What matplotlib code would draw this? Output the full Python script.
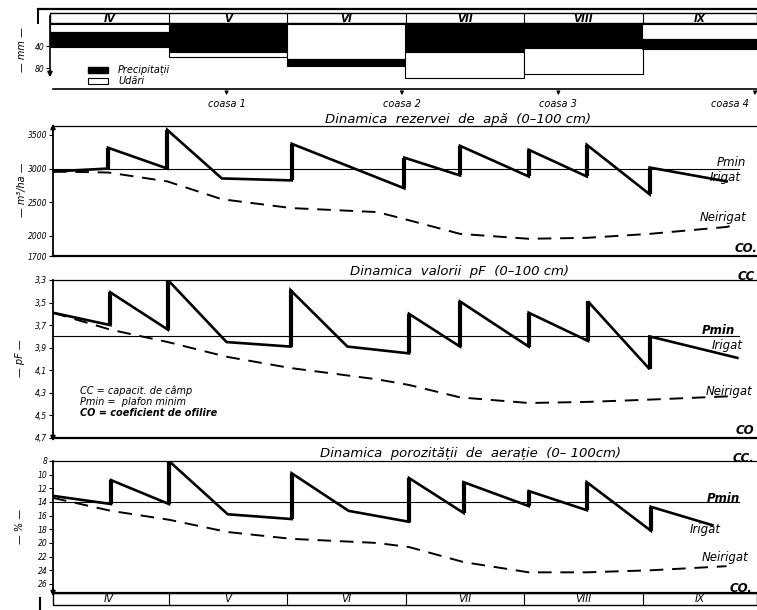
import matplotlib
matplotlib.use('Agg')
import matplotlib.pyplot as plt
from matplotlib.patches import Rectangle

W, H = 757, 610

# ---------------- data ----------------
months = ['IV', 'V', 'VI', 'VII', 'VIII', 'IX']
precip_mm = [27, 51, 12, 51, 44, 18]
irrig_mm = [15, 9, 64, 47, 47, 27]
precip_first = [False, True, False, True, True, False]

coasa_m = [1.49, 2.97, 4.29, 5.95]
coasa_labels = ['coasa 1', 'coasa 2', 'coasa 3', 'coasa 4']

# Reserve of water (m3/ha), x in month units from 1 April
res_irr_x = [0.025, 0.49, 0.49, 0.99, 0.99, 1.45, 2.04, 2.04, 2.99, 2.99,
             3.46, 3.46, 4.04, 4.04, 4.53, 4.53, 5.06, 5.06, 5.71]
res_irr_y = [2956, 3000, 3309, 3000, 3574, 2853, 2824, 3368, 2706, 3162,
             2897, 3338, 2882, 3279, 2882, 3353, 2618, 3015, 2809]
res_non_x = [0.025, 0.49, 0.99, 1.45, 2.04, 2.76, 2.99, 3.46, 4.04, 4.53, 5.06, 5.71, 5.78]
res_non_y = [2956, 2941, 2809, 2544, 2412, 2353, 2250, 2029, 1956, 1970, 2029, 2132, 2162]
res_pmin = 3000
res_ticks = [3500, 3000, 2500, 2000, 1700]

# pF
pf_irr_x = [0.025, 0.51, 0.51, 0.995, 0.995, 1.49, 2.03, 2.03, 2.51, 3.03,
            3.03, 3.46, 3.46, 4.04, 4.04, 4.54, 4.54, 5.06, 5.06, 5.80]
pf_irr_y = [3.59, 3.70, 3.41, 3.74, 3.30, 3.85, 3.89, 3.39, 3.89, 3.95,
            3.60, 3.89, 3.49, 3.89, 3.59, 3.84, 3.49, 4.09, 3.80, 3.99]
pf_non_x = [0.025, 0.51, 0.995, 1.49, 2.03, 2.76, 3.03, 3.46, 4.04, 4.54, 5.06, 5.74]
pf_non_y = [3.59, 3.74, 3.85, 3.98, 4.08, 4.18, 4.23, 4.34, 4.39, 4.38, 4.36, 4.33]
pf_pmin = 3.8
pf_ticks = [3.3, 3.5, 3.7, 3.9, 4.1, 4.3, 4.5, 4.7]
pf_ticklabels = ['3,3', '3,5', '3,7', '3,9', '4,1', '4,3', '4,5', '4,7']

# aeration porosity (%)
ae_irr_x = [0.025, 0.515, 0.515, 1.004, 1.004, 1.50, 2.04, 2.04, 2.52, 3.03,
            3.03, 3.49, 3.49, 4.04, 4.04, 4.53, 4.53, 5.07, 5.07, 5.59]
ae_irr_y = [13.1, 14.3, 10.8, 14.3, 8.0, 15.8, 16.5, 9.8, 15.3, 16.9,
            10.5, 15.6, 11.1, 14.6, 12.4, 15.2, 11.1, 18.2, 14.7, 17.4]
ae_non_x = [0.025, 0.515, 1.004, 1.50, 2.04, 2.76, 3.03, 3.49, 4.04, 4.53, 5.07, 5.71]
ae_non_y = [13.4, 15.3, 16.6, 18.4, 19.4, 20.0, 20.6, 22.8, 24.3, 24.3, 24.0, 23.4]
ae_pmin = 14
ae_ticks = [8, 10, 12, 14, 16, 18, 20, 22, 24, 26]

# ---------------- layout helpers ----------------
M0, MW = 50.0, 118.5  # pixel of month 0, pixels per month


def mpx(m):
    return M0 + MW * m


fig = plt.figure(figsize=(W / 100, H / 100), dpi=100)
fig.patch.set_facecolor('white')


def px_axes(l, t, r, b):
    return fig.add_axes([l / W, 1 - b / H, (r - l) / W, (b - t) / H])


ov = fig.add_axes([0, 0, 1, 1])
ov.set_xlim(0, W)
ov.set_ylim(H, 0)
ov.axis('off')
ov.set_zorder(5)

IT = dict(style='italic', color='black')

# ---------------- top bar panel ----------------
axb = px_axes(50, 24, 757, 89)
axb.set_xlim(0, (W - M0) / MW)
axb.set_ylim(118, 0)
for i in range(len(months)):
    segs = [('black', precip_mm[i]), ('white', irrig_mm[i])]
    if not precip_first[i]:
        segs = segs[::-1]
    bottom = 0
    for col, h in segs:
        axb.bar(i, h, bottom=bottom, width=1.0, align='edge', color=col,
                edgecolor='black', linewidth=0.8)
        bottom += h
for s in axb.spines.values():
    s.set_visible(False)
axb.set_xticks([])
axb.set_yticks([40, 80])
axb.set_yticklabels(['40', '80'])
axb.tick_params(axis='y', direction='out', length=3, width=0.8, labelsize=5.5, pad=1)
for t in axb.get_yticklabels():
    t.set_style('italic')
axb.patch.set_alpha(0)

# header strip
ov.plot([38, W], [9, 9], color='k', lw=1.6)
ov.plot([38, 38], [9, 23], color='k', lw=1.4)
ov.add_patch(Rectangle((50, 13), W - 50, 10, fill=False, lw=1.0, ec='k'))
for k in range(1, 6):
    ov.plot([mpx(k), mpx(k)], [13, 23], color='k', lw=0.8)
for k, name in enumerate(months):
    ov.text(min(mpx(k + 0.5), 700), 18.5, name, ha='center', va='center',
            fontsize=7.5, weight='bold', **IT)
ov.annotate('', xy=(50, 80), xytext=(50, 13),
            arrowprops=dict(arrowstyle='-|>', lw=1.2, color='k', mutation_scale=7))
ov.text(22, 50, '— mm —', rotation=90, ha='center', va='center', fontsize=7, **IT)

# legend
ov.add_patch(Rectangle((88, 67), 20, 6, color='black'))
ov.text(118, 70, 'Precipitații', va='center', fontsize=7, **IT)
ov.add_patch(Rectangle((88, 78), 20, 6, fill=False, ec='black', lw=0.8))
ov.text(118, 81, 'Udări', va='center', fontsize=7, **IT)

# line + coasa arrows
ov.plot([53, W], [89, 89], color='k', lw=1.2)
for m, lab in zip(coasa_m, coasa_labels):
    x = mpx(m)
    ov.annotate('', xy=(x, 98), xytext=(x, 89),
                arrowprops=dict(arrowstyle='-|>', lw=0.9, color='k', mutation_scale=5))
    ov.text(min(x, 730), 104, lab, ha='center', va='center', fontsize=7, **IT)


# ---------------- line panels ----------------
def make_panel(top, bottom, ylim, ticks, ticklabels, pmin, ix, iy, nx, ny):
    ax = px_axes(53, top, W, bottom)
    ax.set_xlim((53 - M0) / MW, (W - M0) / MW)
    ax.set_ylim(*ylim)
    ax.spines['right'].set_visible(False)
    ax.spines['left'].set_linewidth(1.3)
    ax.spines['top'].set_linewidth(0.9)
    ax.spines['bottom'].set_linewidth(1.6)
    ax.set_xticks([])
    ax.set_yticks(ticks)
    ax.set_yticklabels(ticklabels)
    ax.tick_params(axis='y', direction='out', length=3, width=0.8, labelsize=5.5, pad=1)
    for t in ax.get_yticklabels():
        t.set_style('italic')
    ax.axhline(pmin, xmin=0, xmax=0.975, color='k', lw=0.8)
    ax.plot(ix, iy, color='k', lw=1.9, solid_joinstyle='miter')
    # heavier vertical jumps (irrigation events)
    for j in range(1, len(ix)):
        if ix[j] == ix[j - 1]:
            ax.plot([ix[j - 1], ix[j]], [iy[j - 1], iy[j]], color='k', lw=3.0,
                    solid_capstyle='butt')
    ax.plot(nx, ny, color='k', lw=1.4, linestyle=(0, (7, 4.5)))
    ax.patch.set_alpha(0)
    return ax


make_panel(126, 256, (1700, 3500 + 9 / 0.068), res_ticks, [str(v) for v in res_ticks],
           res_pmin, res_irr_x, res_irr_y, res_non_x, res_non_y)
make_panel(280, 438, (4.7, 3.3), pf_ticks, pf_ticklabels,
           pf_pmin, pf_irr_x, pf_irr_y, pf_non_x, pf_non_y)
make_panel(461, 593, (8 + 132 / 6.83, 8), ae_ticks, [str(v) for v in ae_ticks],
           ae_pmin, ae_irr_x, ae_irr_y, ae_non_x, ae_non_y)

# titles
TT = dict(ha='center', va='center', fontsize=9.5, **IT)
ov.text(458, 119, 'Dinamica  rezervei  de  apă  (0–100 cm)', **TT)
ov.text(460, 271, 'Dinamica  valorii  pF  (0–100 cm)', **TT)
ov.text(470, 453, 'Dinamica  porozității  de  aerație  (0– 100cm)', **TT)

# axis arrows and labels
ov.annotate('', xy=(53, 121), xytext=(53, 135),
            arrowprops=dict(arrowstyle='-|>', lw=1.2, color='k', mutation_scale=7))
ov.annotate('', xy=(53, 444), xytext=(53, 430),
            arrowprops=dict(arrowstyle='-|>', lw=1.2, color='k', mutation_scale=7))
ov.annotate('', xy=(53, 599), xytext=(53, 585),
            arrowprops=dict(arrowstyle='-|>', lw=1.2, color='k', mutation_scale=7))
ov.text(22, 190, '— m³/ha —', rotation=90, ha='center', va='center', fontsize=7, **IT)
ov.text(20, 358, '— pF —', rotation=90, ha='center', va='center', fontsize=7, **IT)
ov.text(20, 527, '— % —', rotation=90, ha='center', va='center', fontsize=7, **IT)

# right-hand labels
R = dict(fontsize=8.5, va='center', **IT)
RB = dict(fontsize=8.5, va='center', weight='bold', **IT)
ov.text(717, 162, 'Pmin', **R)
ov.text(710, 177, 'Irigat', **R)
ov.text(700, 218, 'Neirigat', **R)
ov.text(735, 249, 'CO.', **RB)
ov.text(738, 276, 'CC', **RB)
ov.text(702, 330, 'Pmin', **RB)
ov.text(712, 345, 'Irigat', **R)
ov.text(706, 391, 'Neirigat', **R)
ov.text(736, 431, 'CO', **RB)
ov.text(733, 458, 'CC.', **RB)
ov.text(707, 498, 'Pmin', **RB)
ov.text(690, 530, 'Irigat', **R)
ov.text(702, 557, 'Neirigat', **R)
ov.text(730, 588, 'CO.', **RB)

# definitions
DF = dict(fontsize=7, va='center', **IT)
ov.text(80, 391, 'CC = capacit. de câmp', **DF)
ov.text(80, 402, 'Pmin =  plafon minim', **DF)
ov.text(80, 413, 'CO = coeficient de ofilire', weight='bold', **DF)

# bottom month strip
ov.add_patch(Rectangle((53, 593), W - 53, 12, fill=False, lw=1.0, ec='k'))
for k in range(1, 6):
    ov.plot([mpx(k), mpx(k)], [593, 605], color='k', lw=0.8)
for k, name in enumerate(months):
    ov.text(min(mpx(k + 0.5), 700), 599.5, name, ha='center', va='center', fontsize=7.5, **IT)
ov.plot([40, 40], [598, 610], color='k', lw=1.5)

fig.savefig('out.png', dpi=100)
